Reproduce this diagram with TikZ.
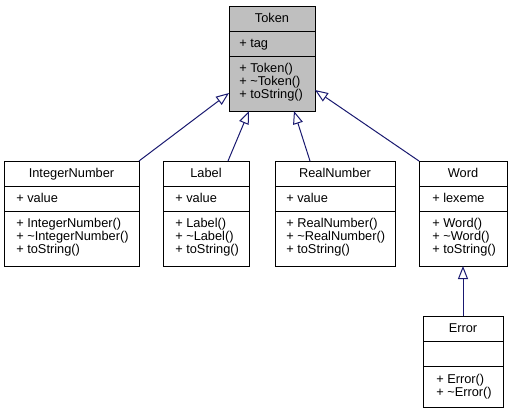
\documentclass[tikz,border=0pt]{standalone}
\usepackage{fontspec}
\setmainfont{Liberation Sans}
\usetikzlibrary{arrows.meta,calc}
\definecolor{edgeblue}{HTML}{191970}
\definecolor{headgray}{HTML}{BFBFBF}
\tikzset{
  classbox/.style={draw=black, line width=0.75pt, fill=white, inner sep=0pt, outer sep=0pt, anchor=north west},
  sepline/.style={draw=black, line width=0.75pt},
  lbl/.style={inner sep=0pt, font=\fontsize{9.6}{9.75}\selectfont, anchor=base},
  mem/.style={lbl, anchor=base west},
  inherit/.style={draw=edgeblue, line width=0.75pt, -{Triangle[length=9.75pt,width=7.5pt,fill=white]}},
}
% divider lines of a class box, given as offsets below its top edge
\newcommand\compartments[3]{%
  \draw[sepline] ($(#1.north west)+(0,#2)$) -- ($(#1.north east)+(0,#2)$);
  \draw[sepline] ($(#1.north west)+(0,#3)$) -- ($(#1.north east)+(0,#3)$);
}
\begin{document}
\begin{tikzpicture}[x=0.75pt,y=-0.75pt]
\useasboundingbox (0,0) rectangle (512,412);
\fill[white] (0,0) rectangle (512,412);

% class boxes
\node[classbox, fill=headgray, minimum width={86*0.75pt}, minimum height={105*0.75pt}] (token) at (229,6) {};
\node[classbox, minimum width={135*0.75pt}, minimum height={105*0.75pt}] (intnum) at (4,161) {};
\node[classbox, minimum width={86*0.75pt}, minimum height={105*0.75pt}] (label) at (163,161) {};
\node[classbox, minimum width={120*0.75pt}, minimum height={105*0.75pt}] (realnum) at (275,161) {};
\node[classbox, minimum width={88*0.75pt}, minimum height={105*0.75pt}] (word) at (419,161) {};
\node[classbox, minimum width={80*0.75pt}, minimum height={91*0.75pt}] (error) at (423,316) {};

\compartments{token}{25}{50}
\compartments{intnum}{25}{50}
\compartments{label}{25}{50}
\compartments{realnum}{25}{50}
\compartments{word}{25}{50}
\compartments{error}{25}{50}

% Token
\node[lbl] (token-name) at (272,22) {Token};
\node[mem] (token-a1) at (239,47) {+ tag};
\node[mem] (token-m1) at (239,72) {+ Token()};
\node[mem] (token-m2) at (239,85) {+ \textasciitilde Token()};
\node[mem] (token-m3) at (239,98) {+ toString()};

% IntegerNumber
\node[lbl] (intnum-name) at (71.5,177) {IntegerNumber};
\node[mem] (intnum-a1) at (16,202) {+ value};
\node[mem] (intnum-m1) at (16,227) {+ IntegerNumber()};
\node[mem] (intnum-m2) at (16,240) {+ \textasciitilde IntegerNumber()};
\node[mem] (intnum-m3) at (16,253) {+ toString()};

% Label
\node[lbl] (label-name) at (206,177) {Label};
\node[mem] (label-a1) at (175,202) {+ value};
\node[mem] (label-m1) at (175,227) {+ Label()};
\node[mem] (label-m2) at (175,240) {+ \textasciitilde Label()};
\node[mem] (label-m3) at (175,253) {+ toString()};

% RealNumber
\node[lbl] (realnum-name) at (335,177) {RealNumber};
\node[mem] (realnum-a1) at (286,202) {+ value};
\node[mem] (realnum-m1) at (286,227) {+ RealNumber()};
\node[mem] (realnum-m2) at (286,240) {+ \textasciitilde RealNumber()};
\node[mem] (realnum-m3) at (286,253) {+ toString()};

% Word
\node[lbl] (word-name) at (463,177) {Word};
\node[mem] (word-a1) at (432,202) {+ lexeme};
\node[mem] (word-m1) at (432,227) {+ Word()};
\node[mem] (word-m2) at (432,240) {+ \textasciitilde Word()};
\node[mem] (word-m3) at (432,253) {+ toString()};

% Error
\node[lbl] (error-name) at (463,332) {Error};
\node[mem] (error-m1) at (436,383) {+ Error()};
\node[mem] (error-m2) at (436,396) {+ \textasciitilde Error()};

% inheritance arrows
\draw[inherit] (intnum.north east) -- ($(token.north west)+(0,87)$);
\draw[inherit] ($(label.north west)+(65,0)$) -- ($(token.south west)+(20,0)$);
\draw[inherit] ($(realnum.north west)+(35,0)$) -- ($(token.south west)+(65,0)$);
\draw[inherit] (word.north west) -- ($(token.north east)+(0,84)$);
\draw[inherit] (error.north) -- (word.south);
\end{tikzpicture}
\end{document}
